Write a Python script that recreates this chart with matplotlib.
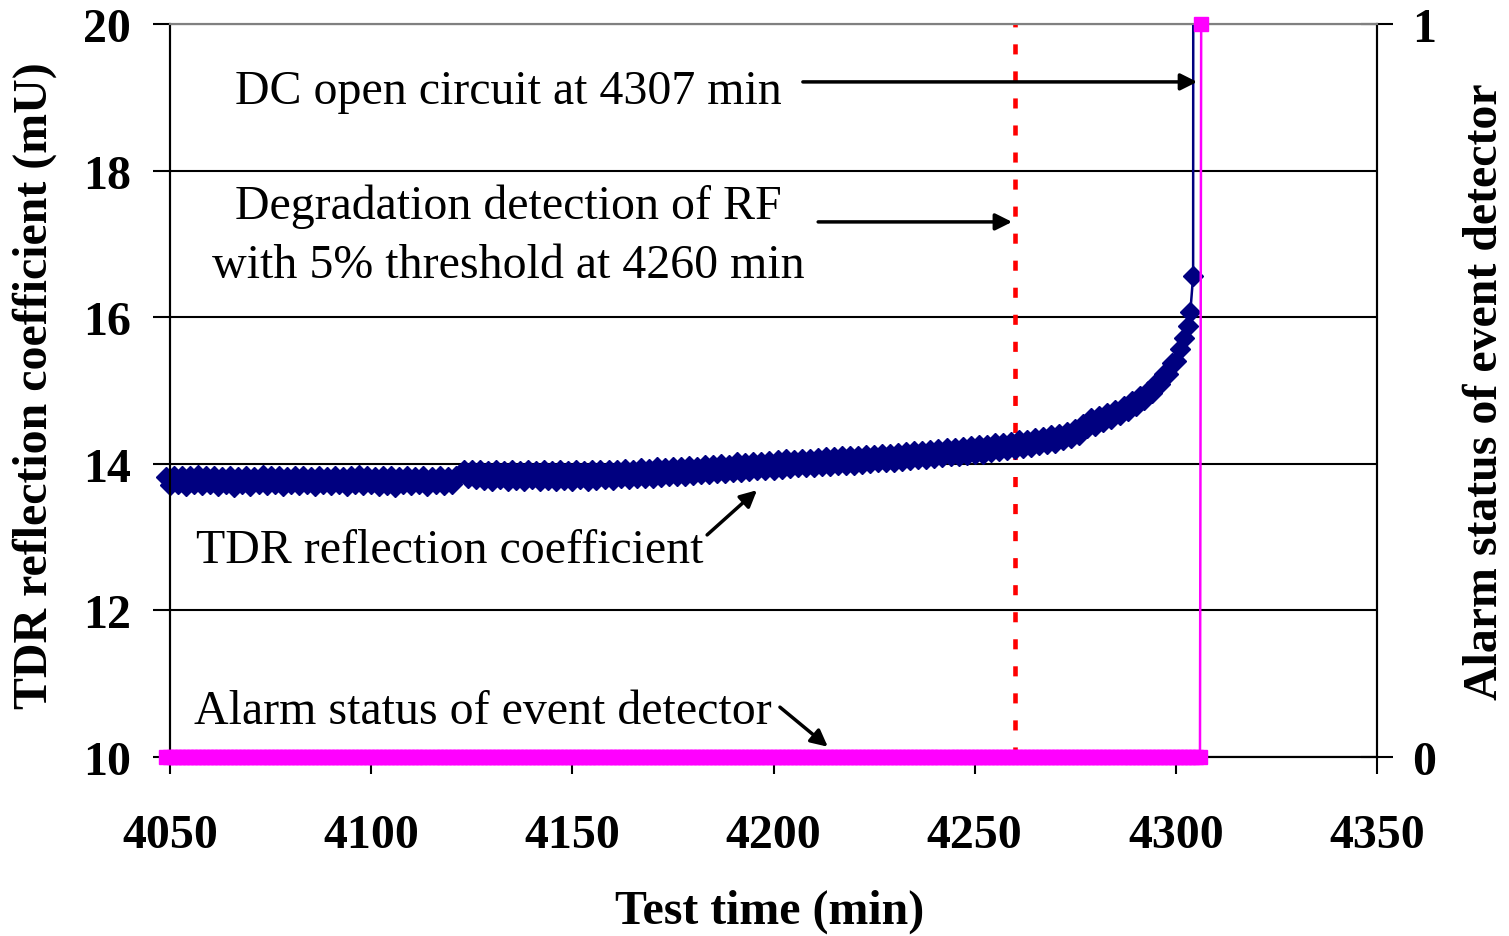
import numpy as np
import matplotlib
matplotlib.use("Agg")
import matplotlib.pyplot as plt
from matplotlib.patches import Rectangle

# ---------------- data ----------------
# TDR reflection coefficient (mU), one sample per minute from 4049 to 4303, then the final rise
tdr_minutes = list(range(4049, 4304)) + [4303.6, 4304.3, 4304.4]
tdr_values = [
    13.82, 13.71, 13.84, 13.72, 13.83, 13.70, 13.84, 13.73, 13.85, 13.71,
    13.83, 13.72, 13.84, 13.70, 13.82, 13.73, 13.84, 13.69, 13.82, 13.72,
    13.83, 13.70, 13.82, 13.73, 13.85, 13.71, 13.83, 13.72, 13.84, 13.70,
    13.82, 13.73, 13.83, 13.71, 13.84, 13.72, 13.82, 13.70, 13.83, 13.73,
    13.82, 13.71, 13.84, 13.72, 13.82, 13.70, 13.83, 13.73, 13.85, 13.71,
    13.83, 13.72, 13.82, 13.70, 13.84, 13.71, 13.83, 13.69, 13.82, 13.72,
    13.83, 13.71, 13.82, 13.73, 13.84, 13.70, 13.82, 13.72, 13.83, 13.71,
    13.82, 13.72, 13.83, 13.86, 13.92, 13.80, 13.92, 13.79, 13.91, 13.78,
    13.90, 13.77, 13.91, 13.79, 13.90, 13.76, 13.91, 13.78, 13.90, 13.77,
    13.91, 13.79, 13.90, 13.77, 13.92, 13.78, 13.90, 13.76, 13.91, 13.78,
    13.90, 13.77, 13.91, 13.79, 13.90, 13.77, 13.92, 13.78, 13.91, 13.79,
    13.92, 13.78, 13.91, 13.80, 13.93, 13.79, 13.92, 13.80, 13.94, 13.81,
    13.93, 13.81, 13.95, 13.82, 13.94, 13.83, 13.96, 13.83, 13.95, 13.84,
    13.97, 13.85, 13.96, 13.86, 13.99, 13.86, 13.98, 13.87, 14.00, 13.88,
    13.99, 13.89, 14.02, 13.89, 14.01, 13.90, 14.03, 13.91, 14.02, 13.92,
    14.04, 13.92, 14.05, 13.93, 14.06, 13.94, 14.05, 13.95, 14.07, 13.95,
    14.07, 13.96, 14.08, 13.97, 14.09, 13.97, 14.09, 13.98, 14.10, 13.99,
    14.10, 13.99, 14.11, 14.00, 14.12, 14.01, 14.12, 14.02, 14.13, 14.03,
    14.14, 14.03, 14.15, 14.04, 14.16, 14.05, 14.17, 14.06, 14.18, 14.07,
    14.19, 14.08, 14.20, 14.09, 14.21, 14.10, 14.22, 14.11, 14.23, 14.12,
    14.24, 14.13, 14.25, 14.14, 14.26, 14.16, 14.28, 14.17, 14.29, 14.19,
    14.30, 14.20, 14.32, 14.21, 14.33, 14.23, 14.35, 14.25, 14.37, 14.27,
    14.39, 14.29, 14.41, 14.32, 14.44, 14.35, 14.48, 14.39, 14.54, 14.49,
    14.62, 14.52, 14.65, 14.57, 14.69, 14.61, 14.74, 14.66, 14.79, 14.72,
    14.85, 14.79, 14.92, 14.87, 15.00, 14.97, 15.10, 15.09, 15.22, 15.23,
    15.37, 15.40, 15.56, 15.72, 15.88,
    16.07, 16.56, 30.0,
]

# Alarm status of the event detector (0 = no alarm, 1 = alarm)
alarm_minutes = list(range(4049, 4307)) + [4306.3]
alarm_values = [0] * 258 + [1]

threshold_minute = 4260

x_ticks = [4050, 4100, 4150, 4200, 4250, 4300, 4350]
y_ticks = [10, 12, 14, 16, 18, 20]
y2_ticks = [0, 1]

# ---------------- figure ----------------
plt.rcParams["font.family"] = ["Liberation Serif", "DejaVu Serif"]

fig = plt.figure(figsize=(15.09, 9.37), dpi=100)
ax = fig.add_axes([170 / 1509, 1 - 758 / 937, (1377 - 170) / 1509, (758 - 25) / 937])
ax2 = ax.twinx()

navy = "#000080"
magenta = "#FF00FF"

ax.set_xlim(4050, 4350)
ax.set_ylim(10, 20)
ax2.set_ylim(0, 1)

# gridlines
ax.set_yticks(y_ticks)
ax.grid(axis="y", color="black", linewidth=1.5)
ax.set_axisbelow(True)

# TDR series
tdr_line, = ax.plot(tdr_minutes, tdr_values, color=navy, linewidth=1.8,
                    marker="D", markersize=10.5, markerfacecolor=navy,
                    markeredgecolor=navy, zorder=4)
clip = Rectangle((-0.02, -0.05), 1.04, 1.05, transform=ax.transAxes)
tdr_line.set_clip_path(clip)

# threshold line
ax.axvline(threshold_minute, color="red", linewidth=3.3,
           linestyle=(0, (2.2, 3.7)), zorder=3)

# Alarm series
ax2.plot(alarm_minutes, alarm_values, color=magenta, linewidth=1.8,
         marker="s", markersize=9.5, markerfacecolor=magenta,
         markeredgecolor=magenta, clip_on=False, zorder=5)

# ticks
fs = 34.5
bold = dict(fontsize=fs, fontweight="bold")
ax.set_xticks(x_ticks)
ax.set_xticklabels([str(t) for t in x_ticks], **bold)
ax.set_yticklabels([str(t) for t in y_ticks], **bold)
ax2.set_yticks(y2_ticks)
ax2.set_yticklabels([str(t) for t in y2_ticks], **bold)

ax.tick_params(axis="x", direction="out", length=12, width=1.5, pad=28)
ax.tick_params(axis="y", direction="out", length=12, width=1.5, pad=16)
ax2.tick_params(axis="y", direction="inout", length=23, width=1.5, pad=14)

# spines
for a in (ax, ax2):
    a.spines["top"].set_color("#808080")
    a.spines["top"].set_linewidth(1.5)
    for s in ("left", "right", "bottom"):
        a.spines[s].set_color("black")
        a.spines[s].set_linewidth(1.5)

# axis labels
ax.set_xlabel("Test time (min)", fontsize=fs, fontweight="bold")
ax.xaxis.set_label_coords((770 - 170) / 1207, -(912 - 758) / 733)
ax.xaxis.label.set_va("center")
ax.set_ylabel("TDR reflection coefficient (mU)", fontsize=fs, fontweight="bold", va="center")
ax.yaxis.set_label_coords((35 - 170) / 1207, (758 - 386) / 733)
ax2.set_ylabel("Alarm status of event detector", fontsize=fs, fontweight="bold", va="center")
ax2.yaxis.set_label_coords((1485 - 170) / 1207, (758 - 392) / 733)

# annotations
afs = 34.5
arrow = dict(arrowstyle="-|>", color="black", lw=2.5, mutation_scale=25,
             shrinkA=0, shrinkB=0)
ax.annotate("", xy=(4305.3, 19.21), xytext=(4207.3, 19.21), arrowprops=arrow, zorder=6)
ax.text(4134.0, 19.08, "DC open circuit at 4307 min", fontsize=afs,
        ha="center", va="center")

ax.annotate("", xy=(4259.3, 17.30), xytext=(4211.1, 17.30), arrowprops=arrow, zorder=6)
ax.text(4134.0, 17.12, "Degradation detection of RF\nwith 5% threshold at 4260 min",
        fontsize=afs, ha="center", va="center", linespacing=1.43)

ax.annotate("", xy=(4195.9, 13.64), xytext=(4183.5, 13.03), arrowprops=arrow, zorder=6)
ax.text(4119.6, 12.83, "TDR reflection coefficient", fontsize=afs,
        ha="center", va="center")

ax.annotate("", xy=(4213.5, 10.14), xytext=(4201.6, 10.68), arrowprops=arrow, zorder=6)
ax.text(4127.8, 10.63, "Alarm status of event detector", fontsize=afs,
        ha="center", va="center")

fig.savefig("out.png", dpi=100)
